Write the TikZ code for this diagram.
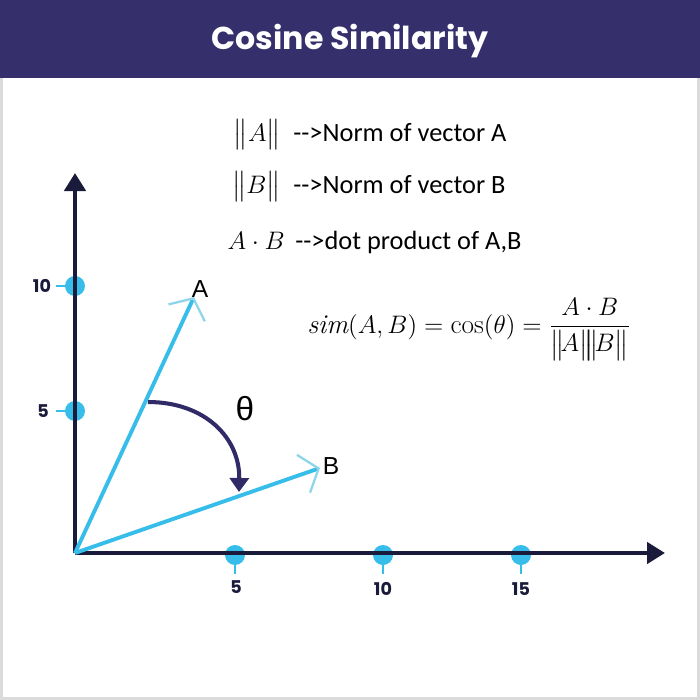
\documentclass[tikz,border=0pt]{standalone}
\usepackage{amsmath}
\usepackage{fontspec}
\usetikzlibrary{arrows.meta,positioning}
\newfontfamily\poppins{Poppins}
\newfontfamily\carlito{Carlito}
\newfontfamily\arialish{Liberation Sans}
\definecolor{band}{HTML}{352F6B}
\definecolor{axisdark}{HTML}{1A1A3A}
\definecolor{skyblue}{HTML}{36BDEA}
\definecolor{paleblue}{HTML}{8ED5EC}
\definecolor{turncol}{HTML}{302A66}

\begin{document}
\begin{tikzpicture}[
    x=0.02cm, y=-0.02cm,
    axis/.style={draw=axisdark, line width=2.8pt, -{Triangle[length=0.36cm, width=0.42cm]}},
    vec/.style={draw=skyblue, line width=2.2pt, -{Straight Barb[length=0.32cm, width=0.8cm, color=paleblue, line width=1.3pt]}},
    dot/.style={circle, fill=skyblue, minimum size=0.4cm, inner sep=0pt},
    tickline/.style={draw=skyblue, line width=1.4pt},
    num/.style={font=\poppins\bfseries\fontsize{10}{12}\selectfont, text=axisdark},
    sym/.style={inner sep=0pt, font=\fontsize{14}{16}\selectfont},
    note/.style={inner sep=0pt, font=\carlito\fontsize{15}{18}\selectfont},
    vlabel/.style={font=\arialish\fontsize{14}{16}\selectfont},
    turn/.style={draw=turncol, line width=2.3pt, -{Triangle[length=0.28cm, width=0.38cm]}}
]
    \useasboundingbox (0,0) rectangle (700,700);
    \fill[white] (0,0) rectangle (700,700);
    \draw[gray!28, line width=1.6pt] (1.5,1.5) rectangle (698.5,698.5);
    \fill[band] (0,0) rectangle (700,78);
    \node[text=white, font=\poppins\bfseries\fontsize{18}{22}\selectfont] (title) at (350,41) {Cosine Similarity};

    \node[sym, anchor=base east] (normA) at (281,141) {$\bigl\|A\bigr\|$};
    \node[note, base right=0.24cm of normA] (normAtext) {-{}->Norm of vector A};
    \node[sym, anchor=base east] (normB) at (281,193) {$\bigl\|B\bigr\|$};
    \node[note, base right=0.24cm of normB] (normBtext) {-{}->Norm of vector B};
    \node[sym, anchor=base east] (dotAB) at (285,249) {$A\cdot B$};
    \node[note, base right=0.2cm of dotAB] (dotABtext) {-{}->dot product of A,B};

    \node[inner sep=0pt, anchor=base west, font=\fontsize{15.5}{18}\selectfont] (simeq) at (307,333)
        {$\mathit{sim}(A,B)=\cos(\theta)=\dfrac{A\cdot B}{\bigl\|\!A\bigr\|\!\!\bigl\|\!B\bigr\|}$};

    \coordinate (O) at (75,553);
    \coordinate (ytop) at (75,173);
    \coordinate (xend) at (665,553);

    \node[dot] (y5) at (75,411) {};
    \node[dot] (y10) at (75,286) {};
    \node[dot] (x5) at (235,555) {};
    \node[dot] (x10) at (383,555) {};
    \node[dot] (x15) at (521,555) {};

    \draw[tickline] (y5.west) -- ++(-9,0);
    \draw[tickline] (y10.west) -- ++(-9,0);
    \draw[tickline] (x5.south) -- ++(0,9);
    \draw[tickline] (x10.south) -- ++(0,9);
    \draw[tickline] (x15.south) -- ++(0,9);

    \node[num] (lab5y) at (43,411) {5};
    \node[num] (lab10y) at (42,286) {10};
    \node[num] (lab5x) at (236,587) {5};
    \node[num] (lab10x) at (383,589) {10};
    \node[num] (lab15x) at (521,589) {15};

    \draw[axis] (O) -- (ytop);
    \draw[axis] (O) -- (xend);

    \coordinate (tipA) at (194,297);
    \coordinate (tipB) at (320,468);
    \draw[vec] (O) -- (tipA);
    \draw[vec] (O) -- (tipB);
    \node[vlabel] (labA) at (200,289) {A};
    \node[vlabel] (labB) at (331,466) {B};

    \coordinate (turnstart) at (148,402);
    \coordinate (turnend) at (239,492);
    \draw[turn] (turnstart) .. controls (205,402) and (240,438) .. (turnend);
    \node[font=\arialish\fontsize{19}{22}\selectfont] (theta) at (245,409) {θ};
\end{tikzpicture}
\end{document}
